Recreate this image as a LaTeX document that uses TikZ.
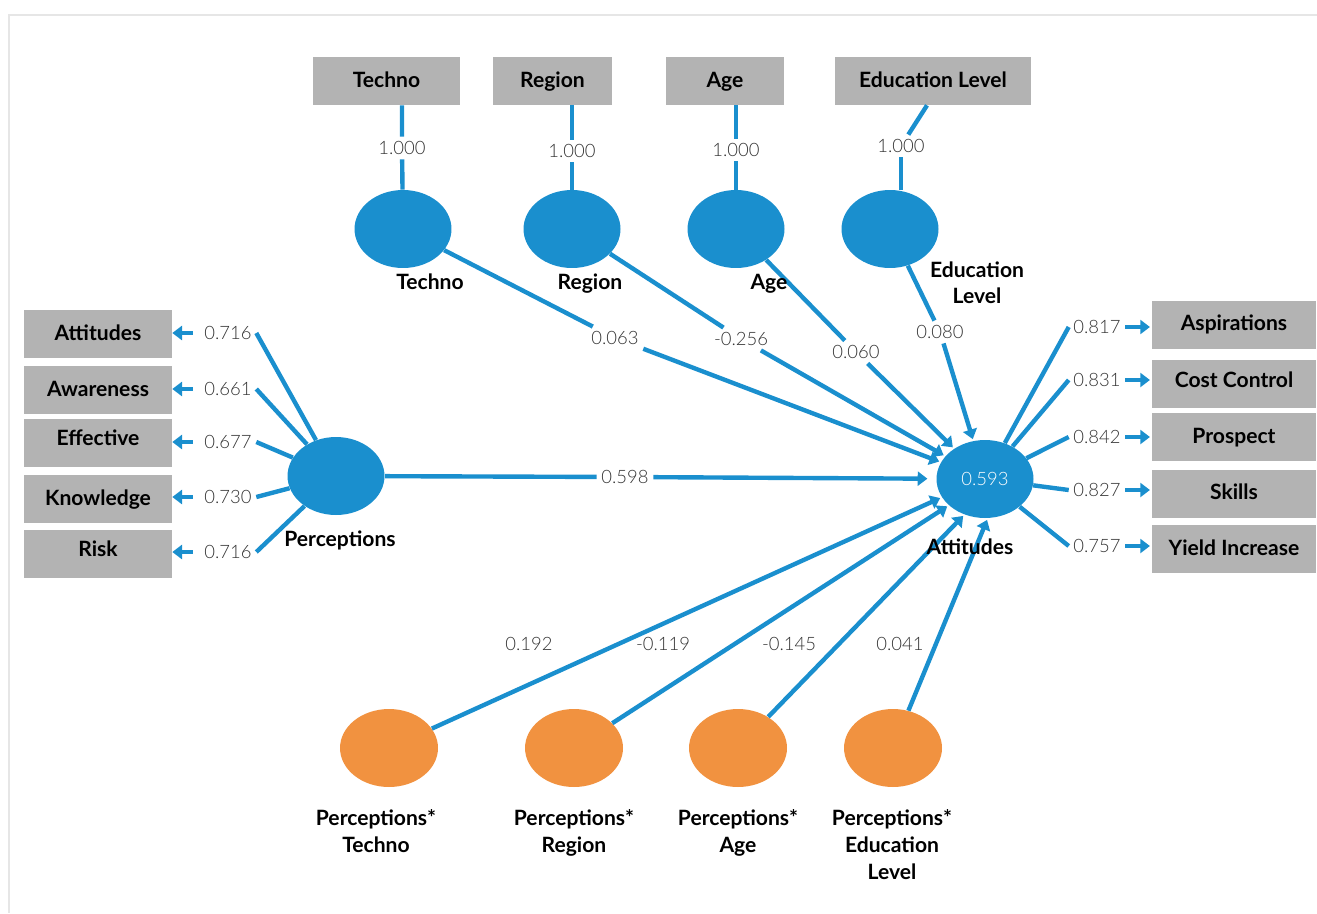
\documentclass[tikz,border=0pt]{standalone}
\usepackage{fontspec}
\setmainfont{Lato}
\IfFontExistsTF{Lato Light}{\newfontfamily\numfont{Lato Light}}{\newfontfamily\numfont{Lato}}
\usetikzlibrary{arrows.meta,shapes.geometric}
\definecolor{pblue}{RGB}{26,143,206}
\definecolor{porange}{RGB}{241,146,64}
\definecolor{pgray}{RGB}{179,179,179}
\definecolor{pframe}{RGB}{230,230,230}
\begin{document}
\begin{tikzpicture}[x=0.02cm,y=-0.02cm,
  box/.style={fill=pgray, minimum height=0.96cm, inner sep=0pt, text height=10.5pt, text depth=2.6pt, font=\fontsize{12}{14}\selectfont\bfseries},
  lat/.style={ellipse, fill=pblue, minimum width=1.94cm, minimum height=1.56cm, inner sep=0pt},
  inter/.style={ellipse, fill=porange, minimum width=1.96cm, minimum height=1.56cm, inner sep=0pt},
  num/.style={font=\numfont\fontsize{10.5}{12}\selectfont, text=black!80, inner sep=2.5pt},
  numw/.style={num, minimum width=1.1cm},
  lname/.style={font=\fontsize{12}{15.3}\selectfont\bfseries, align=center, inner sep=0pt},
  sname/.style={lname, text height=10.5pt, text depth=2.6pt},
  conn/.style={draw=pblue, line width=2.5pt},
  arr/.style={conn, -{Triangle[length=5.5pt,width=8pt]}},
]
\useasboundingbox (0,0) rectangle (1317,913);
\draw[pframe, line width=1.6pt] (9,913) -- (9,15) -- (1317,15);

% top indicator boxes
\node[box, minimum width=2.94cm] (bT) at (386.5,81) {Techno};
\node[box, minimum width=2.38cm] (bR) at (552.5,81) {Region};
\node[box, minimum width=2.36cm] (bA) at (725,81) {Age};
\node[box, minimum width=3.92cm] (bE) at (933,81) {Education Level};

% top latent variables
\node[lat] (eT) at (403,229) {};
\node[lat] (eR) at (572,229) {};
\node[lat] (eA) at (736,229) {};
\node[lat] (eE) at (890,229) {};

% loadings top
\node[num] (lT) at (402,148) {1.000};
\node[num] (lR) at (572,151) {1.000};
\node[num] (lA) at (736,150) {1.000};
\node[num] (lE) at (901,146) {1.000};
\coordinate (eEx) at (927,0);
\draw[conn] (bT.south -| lT) -- (lT) -- (eT);
\draw[conn] (bR.south -| lR) -- (lR) -- (eR);
\draw[conn] (bA.south -| lA) -- (lA) -- (eA);
\draw[conn] (bE.south -| eEx) -- (lE);
\draw[conn] (lE.south) -- (lE.south |- eE.north);

% main latent variables
\node[lat, text=white, font=\numfont\fontsize{10.5}{12}\selectfont] (att) at (985,479) {0.593};
\node[lat] (per) at (336,476) {};

% paths from top
\node[num] (p1) at (615,338) {0.063};
\node[num] (p2) at (741,339) {-0.256};
\node[num] (p3) at (856,352) {0.060};
\node[num] (p4) at (940,332) {0.080};
\draw[conn] (eT) -- (p1);
\draw[conn] (eR) -- (p2);
\draw[conn] (eA) -- (p3);
\draw[conn] (eE) -- (p4);
\draw[arr, shorten >=1pt] (p1) -- (att);
\draw[arr, shorten >=1pt] (p2) -- (att);
\draw[arr, shorten >=1pt] (p3) -- (att);
\draw[arr, shorten >=1pt] (p4) -- (att);

% main path
\node[num] (p0) at (625,477) {0.598};
\draw[conn] (per) -- (p0);
\draw[arr, shorten >=5pt] (p0) -- (att);

% left indicators
\node[box, minimum width=2.96cm] (iA) at (98,334) {Attitudes};
\node[box, minimum width=2.96cm] (iB) at (98,390) {Awareness};
\node[box, minimum width=2.96cm] (iC) at (98,443) {\raisebox{2.5pt}{Effective}};
\node[box, minimum width=2.96cm] (iD) at (98,499) {Knowledge};
\node[box, minimum width=2.96cm] (iE) at (98,554) {\raisebox{2.5pt}{Risk}};
\node[numw] (qA) at (228,333) {0.716};
\node[numw] (qB) at (228,389) {0.661};
\node[numw] (qC) at (228,442) {0.677};
\node[numw] (qD) at (228,497) {0.730};
\node[numw] (qE) at (228,552) {0.716};
\foreach \q/\i in {qA/iA,qB/iB,qC/iC,qD/iD,qE/iE}{
  \draw[conn] (\q.east) -- (per);
  \draw[arr, shorten <=4pt] (\q) -- (\q -| \i.east);
}

% right indicators
\node[box, minimum width=3.28cm] (oA) at (1234,325) {\raisebox{1pt}{Aspirations}};
\node[box, minimum width=3.28cm] (oB) at (1234,384) {\raisebox{2pt}{Cost Control}};
\node[box, minimum width=3.28cm] (oC) at (1234,437) {Prospect};
\node[box, minimum width=3.28cm] (oD) at (1234,494) {\raisebox{1pt}{Skills}};
\node[box, minimum width=3.28cm] (oE) at (1234,549) {Yield Increase};
\node[numw] (rA) at (1097,327) {0.817};
\node[numw] (rB) at (1097,380) {0.831};
\node[numw] (rC) at (1097,437) {0.842};
\node[numw] (rD) at (1097,490) {0.827};
\node[numw] (rE) at (1097,546) {0.757};
\foreach \r/\o in {rA/oA,rB/oB,rC/oC,rD/oD,rE/oE}{
  \draw[conn] (att) -- (\r.west);
  \draw[arr, shorten >=1pt] (\r) -- (\r -| \o.west);
}

% interaction terms
\node[inter] (x1) at (389,748) {};
\node[inter] (x2) at (574,748) {};
\node[inter] (x3) at (738,748) {};
\node[inter] (x4) at (893,748) {};
\draw[arr, shorten >=1pt] (x1) -- (att.203);
\draw[arr, shorten >=1pt] (x2) -- (att.216);
\draw[arr, shorten >=1pt] (x3) -- (att.240);
\draw[arr, shorten >=1pt] (x4) -- (att.274);
\node[num] (b1) at (529,644) {0.192};
\node[num] (b2) at (663,644) {-0.119};
\node[num] (b3) at (789,644) {-0.145};
\node[num] (b4) at (900,644) {0.041};

% latent names
\node[sname] (nT) at (430,283) {Techno};
\node[sname] (nR) at (590,283) {Region};
\node[sname] (nA) at (769,283) {Age};
\node[lname, anchor=north] (nE) at (977,261) {Education\\Level};
\node[sname] (nP) at (340,540) {Perceptions};
\node[sname] (nAt) at (970,548) {Attitudes};
\node[lname, anchor=north] (m1) at (376,809) {Perceptions*\\Techno};
\node[lname, anchor=north] (m2) at (574,809) {Perceptions*\\Region};
\node[lname, anchor=north] (m3) at (738,809) {Perceptions*\\Age};
\node[lname, anchor=north] (m4) at (892,809) {Perceptions*\\Education\\Level};
\end{tikzpicture}
\end{document}
